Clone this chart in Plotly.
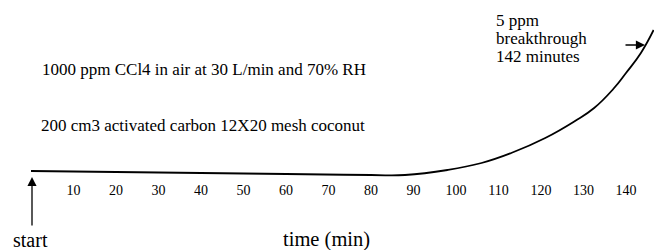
import plotly.graph_objects as go

# Data (time in minutes, effluent concentration in arbitrary units)
time_min = [0, 20, 40, 60, 80, 88, 98, 106, 113, 121, 128, 132.5, 137, 140, 143.5, 146.5]
conc = [4, 3, 2, 1, 0, 0, 5, 12, 22, 37, 54, 67, 86, 102, 122, 145]
tick_vals = [10, 20, 30, 40, 50, 60, 70, 80, 90, 100, 110, 120, 130, 140]
tick_text = [str(v) for v in tick_vals]

W, H = 654, 250
PLOT_H = 180
FONT = "Liberation Serif"

def px(x):
    return x / W

def py(y):
    return (PLOT_H - y) / PLOT_H

fig = go.Figure()
fig.add_trace(go.Scatter(
    x=time_min, y=conc, mode="lines",
    line=dict(color="black", width=1.8, shape="spline", smoothing=1.3),
    hoverinfo="skip", showlegend=False,
))

ann = []
def text(t, x, y, size, xanchor="left"):
    ann.append(dict(text=t, x=px(x), y=py(y), xref="paper", yref="paper",
                    xanchor=xanchor, yanchor="middle", showarrow=False,
                    font=dict(family=FONT, size=size, color="black")))

text("1000 ppm CCl4 in air at 30 L/min and 70% RH", 40, 70, 17)
text("200 cm3 activated carbon 12X20 mesh coconut", 39, 125, 17)
text("5 ppm", 494, 20, 17)
text("breakthrough", 494, 38, 17)
text("142 minutes", 494, 56, 17)
text("start", 11, 240, 20)
text("time (min)", 326, 239, 20.5, xanchor="center")

# start arrow
ann.append(dict(text="", x=px(32), y=py(177), xref="paper", yref="paper",
                ax=0, ay=50, showarrow=True, arrowhead=2, arrowsize=1.4,
                arrowwidth=1.3, arrowcolor="black"))
# breakthrough arrow
ann.append(dict(text="", x=px(645), y=py(45), xref="paper", yref="paper",
                ax=-21, ay=0, showarrow=True, arrowhead=2, arrowsize=1.4,
                arrowwidth=1.3, arrowcolor="black"))

fig.update_layout(
    width=W, height=H,
    margin=dict(l=0, r=0, t=0, b=H - PLOT_H),
    paper_bgcolor="white", plot_bgcolor="white",
    annotations=ann,
    hovermode=False,
    xaxis=dict(range=[-31 / 4.25, (W - 31) / 4.25], showgrid=False, zeroline=False,
               showline=False, ticks="", tickvals=tick_vals, ticktext=tick_text,
               tickfont=dict(family=FONT, size=14, color="black"), fixedrange=True),
    yaxis=dict(range=[-5, 175], visible=False, fixedrange=True),
)

fig.write_html("out.html", config={"displayModeBar": False},
               post_script="document.body.style.margin='0';")
